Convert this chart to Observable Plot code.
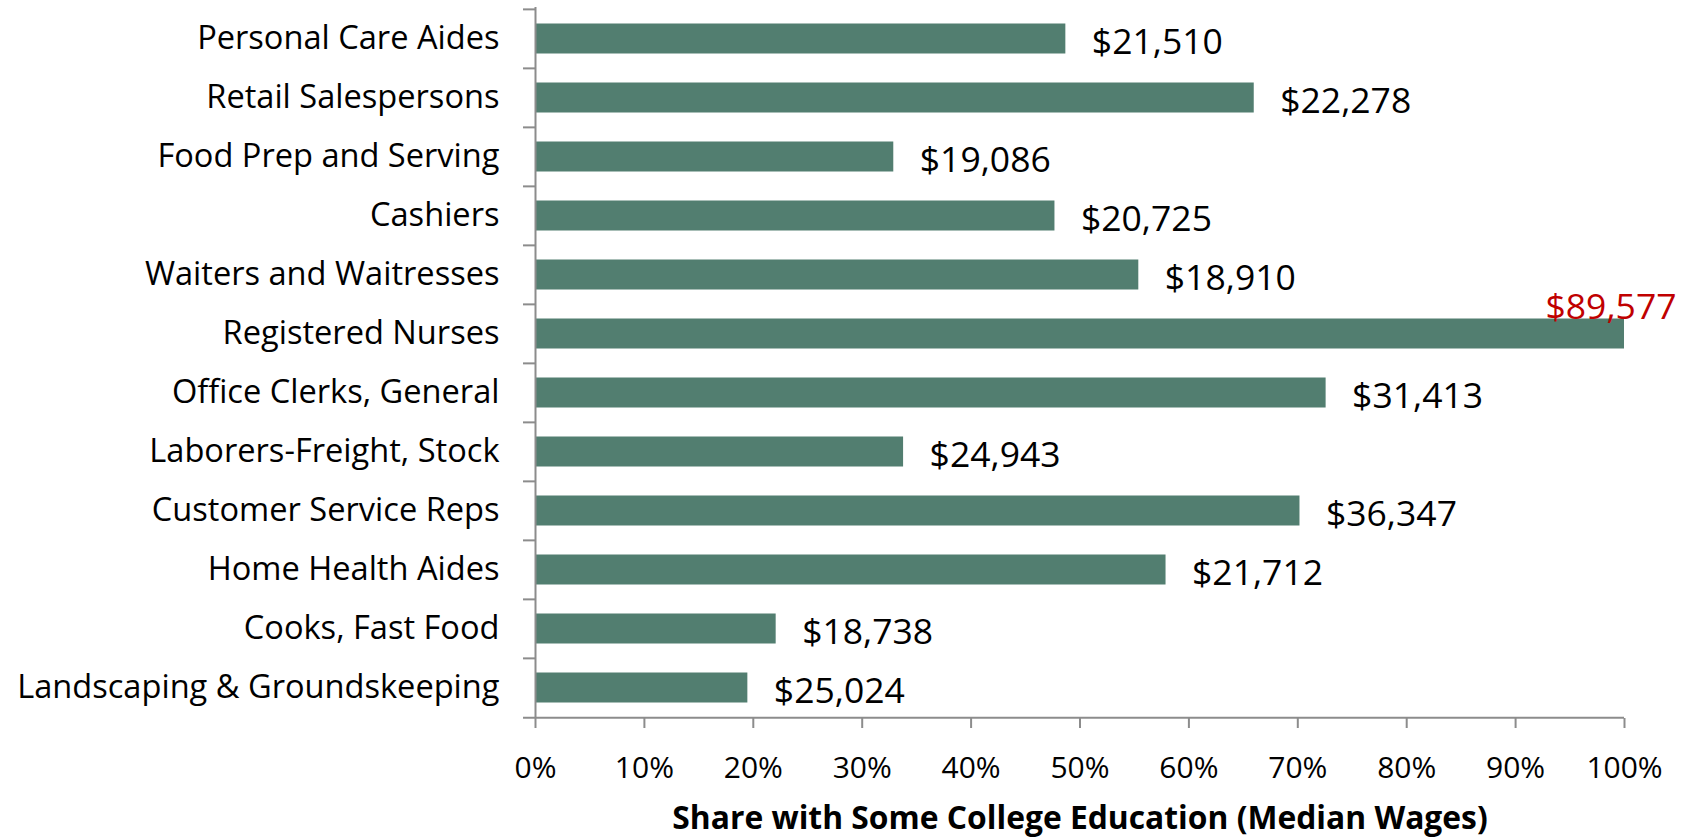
<!DOCTYPE html>
<html>
<head>
<meta charset="utf-8">
<script src="https://cdn.jsdelivr.net/npm/d3@7"></script>
<script src="https://cdn.jsdelivr.net/npm/@observablehq/plot@0.6"></script>
<style>
  html, body { margin: 0; padding: 0; background: #fff; }
  #chart svg { display: block; }
</style>
</head>
<body>
<div id="chart"></div>
<script>
const occupations = [
  "Personal Care Aides",
  "Retail Salespersons",
  "Food Prep and Serving",
  "Cashiers",
  "Waiters and Waitresses",
  "Registered Nurses",
  "Office Clerks, General",
  "Laborers-Freight, Stock",
  "Customer Service Reps",
  "Home Health Aides",
  "Cooks, Fast Food",
  "Landscaping & Groundskeeping"
];
const collegeShare = [48.7, 66.0, 32.9, 47.7, 55.4, 100, 72.6, 33.8, 70.2, 57.9, 22.1, 19.5];
const medianWages = ["$21,510", "$22,278", "$19,086", "$20,725", "$18,910", "$89,577", "$31,413", "$24,943", "$36,347", "$21,712", "$18,738", "$25,024"];
const highlighted = ["Registered Nurses"];
const xTicks = [0, 10, 20, 30, 40, 50, 60, 70, 80, 90, 100];

const data = occupations.map((name, i) => ({name, share: collegeShare[i], wage: medianWages[i]}));
const normal = data.filter(d => !highlighted.includes(d.name));
const special = data.filter(d => highlighted.includes(d.name));

const W = 1690, H = 839;
const mTop = 7, mBottom = 121, mLeft = 535, mRight = 66;
const step = (H - mTop - mBottom) / occupations.length;
const font = "'Open Sans', sans-serif";
const axisColor = "#8c8c8c";

const chart = Plot.plot({
  width: W,
  height: H,
  marginTop: mTop,
  marginBottom: mBottom,
  marginLeft: mLeft,
  marginRight: mRight,
  style: {fontFamily: font, color: "#000", background: "#fff"},
  x: {domain: [0, 100]},
  y: {domain: occupations, padding: 0},
  marks: [
    Plot.barX(data, {y: "name", x: "share", fill: "#527e70", insetTop: 14.5, insetBottom: 14.5}),
    // y axis line
    Plot.ruleX([0], {stroke: axisColor, strokeWidth: 2}),
    // category boundary ticks
    Plot.ruleY(occupations, {y: d => d, x1: -1.1, x2: 0, stroke: axisColor, strokeWidth: 2, dy: -step / 2}),
    Plot.ruleY([occupations[occupations.length - 1]], {y: d => d, x1: -1.1, x2: 100, stroke: axisColor, strokeWidth: 2, dy: step / 2}),
    Plot.axisY({tickSize: 0, tickPadding: 36, fontSize: 32.6, label: null}),
    Plot.axisX({ticks: xTicks, tickFormat: d => d + "%", tickSize: 10, tickPadding: 28, fontSize: 30, stroke: axisColor, strokeWidth: 2, label: null}),
    Plot.text(normal, {y: "name", x: "share", text: "wage", dx: 26, dy: 4, textAnchor: "start", fontSize: 35.5, fill: "#000"}),
    Plot.text(special, {y: "name", x: "share", text: "wage", dx: 52, dy: -26, textAnchor: "end", fontSize: 35.5, fill: "#c00000"}),
    Plot.text(["Share with Some College Education (Median Wages)"], {frameAnchor: "bottom", text: d => d, dy: 110, fontSize: 31.8, fontWeight: "bold", fill: "#000"})
  ]
});
document.getElementById("chart").appendChild(chart);
</script>
</body>
</html>
